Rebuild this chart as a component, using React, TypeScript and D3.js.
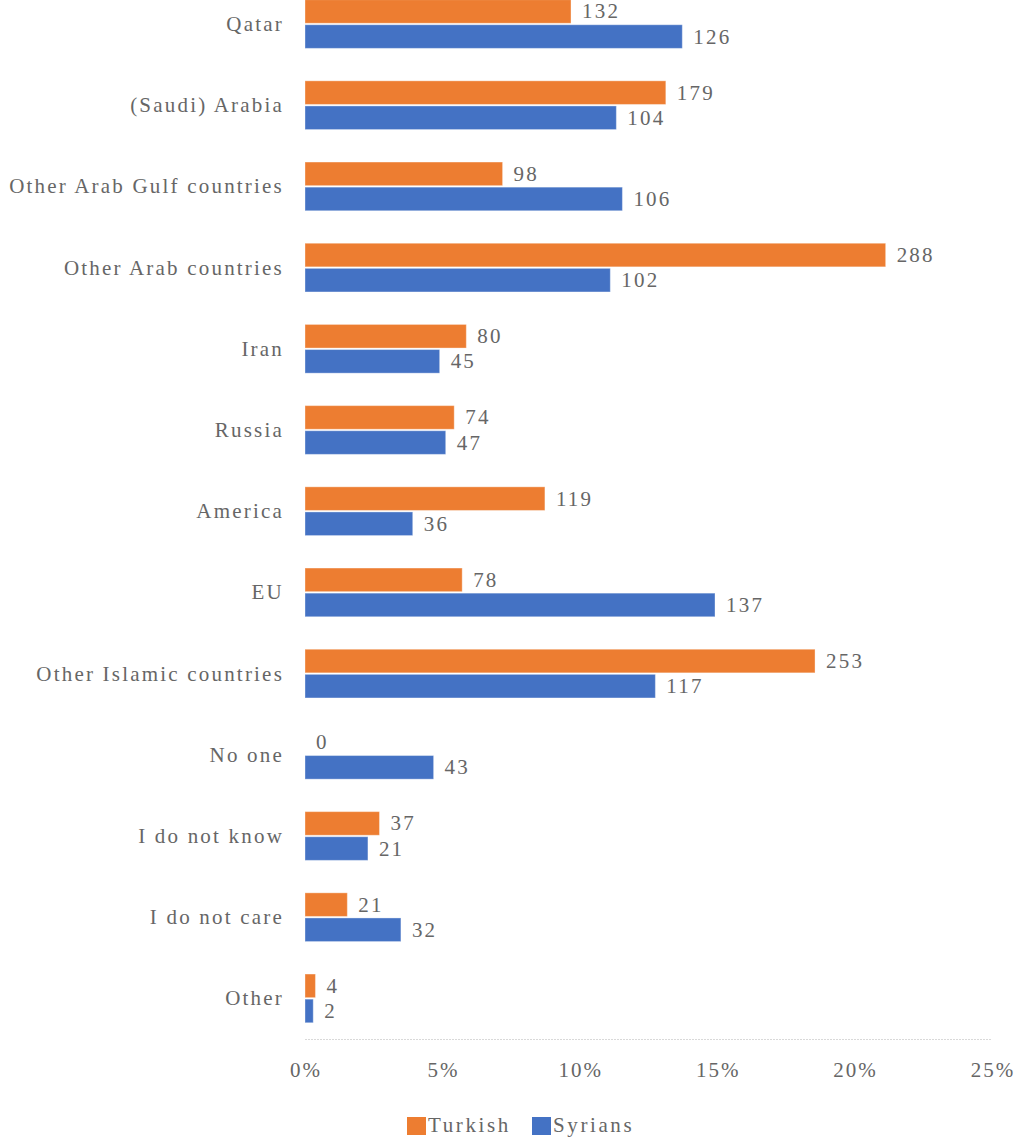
import React from "react";
import * as d3 from "d3";

const categories = [
  "Qatar",
  "(Saudi) Arabia",
  "Other Arab Gulf countries",
  "Other Arab countries",
  "Iran",
  "Russia",
  "America",
  "EU",
  "Other Islamic countries",
  "No one",
  "I do not know",
  "I do not care",
  "Other",
];

const seriesNames = ["Turkish", "Syrians"];
const seriesColors = ["#ED7D31", "#4472C4"];

// bar lengths (percent of respondents)
const turkishPct = [9.68, 13.13, 7.19, 21.13, 5.87, 5.43, 8.73, 5.72, 18.56, 0, 2.71, 1.54, 0.38];
const syriansPct = [13.73, 11.33, 11.55, 11.11, 4.9, 5.12, 3.92, 14.92, 12.75, 4.68, 2.29, 3.49, 0.3];

// data labels (counts)
const turkishCount = [132, 179, 98, 288, 80, 74, 119, 78, 253, 0, 37, 21, 4];
const syriansCount = [126, 104, 106, 102, 45, 47, 36, 137, 117, 43, 21, 32, 2];

const xTicks = [0, 5, 10, 15, 20, 25];

const W = 1014;
const H = 1137;
const FONT = "'Liberation Serif', 'DejaVu Serif', serif";
const TEXT = "#666666";

export default function App() {
  const x = d3.scaleLinear().domain([0, 25]).range([305, 992]);
  const y = d3
    .scaleBand<string>()
    .domain(categories)
    .range([-16.6, 1039])
    .paddingInner(0.4)
    .paddingOuter(0.2);
  const sub = d3
    .scaleBand<string>()
    .domain(seriesNames)
    .range([0, y.bandwidth()])
    .paddingInner(0.06);

  const pcts = [turkishPct, syriansPct];
  const counts = [turkishCount, syriansCount];

  return (
    <svg
      width={W}
      height={H}
      style={{ position: "absolute", left: 0, top: 0, background: "#fff" }}
    >
      {/* axis baseline */}
      <line
        x1={x(0)}
        x2={x(25)}
        y1={1039.5}
        y2={1039.5}
        stroke="#d9d9d9"
        strokeWidth={1}
        strokeDasharray="2,1"
      />
      {xTicks.map((t) => (
        <text
          key={t}
          x={x(t) + 1}
          y={1070}
          textAnchor="middle"
          dominantBaseline="central"
          fontFamily={FONT}
          fontSize={21}
          fill={TEXT}
          letterSpacing={2}
        >
          {t}%
        </text>
      ))}
      {categories.map((c, i) => {
        const y0 = y(c)!;
        return (
          <g key={c}>
            <text
              x={284}
              y={y0 + y.bandwidth() / 2}
              textAnchor="end"
              dominantBaseline="central"
              fontFamily={FONT}
              fontSize={21}
              fill={TEXT}
              letterSpacing={2.2}
            >
              {c}
            </text>
            {seriesNames.map((s, k) => {
              const v = pcts[k][i];
              const by = y0 + sub(s)!;
              const bh = sub.bandwidth();
              return (
                <g key={s}>
                  {v > 0 && (
                    <rect
                      x={x(0)}
                      y={by}
                      width={x(v) - x(0)}
                      height={bh}
                      fill={seriesColors[k]}
                      stroke="#fff"
                      strokeOpacity={0.35}
                      strokeWidth={1}
                    />
                  )}
                  <text
                    x={x(v) + 11}
                    y={by + bh / 2}
                    dominantBaseline="central"
                    fontFamily={FONT}
                    fontSize={21}
                    fill={TEXT}
                    letterSpacing={2.2}
                  >
                    {counts[k][i]}
                  </text>
                </g>
              );
            })}
          </g>
        );
      })}
      {/* legend */}
      {seriesNames.map((s, k) => {
        const lx = [407, 532][k];
        return (
          <g key={s}>
            <rect x={lx} y={1117} width={19} height={18} fill={seriesColors[k]} />
            <text
              x={lx + 21}
              y={1125}
              dominantBaseline="central"
              fontFamily={FONT}
              fontSize={21}
              fill={TEXT}
              letterSpacing={2.6}
            >
              {s}
            </text>
          </g>
        );
      })}
    </svg>
  );
}
